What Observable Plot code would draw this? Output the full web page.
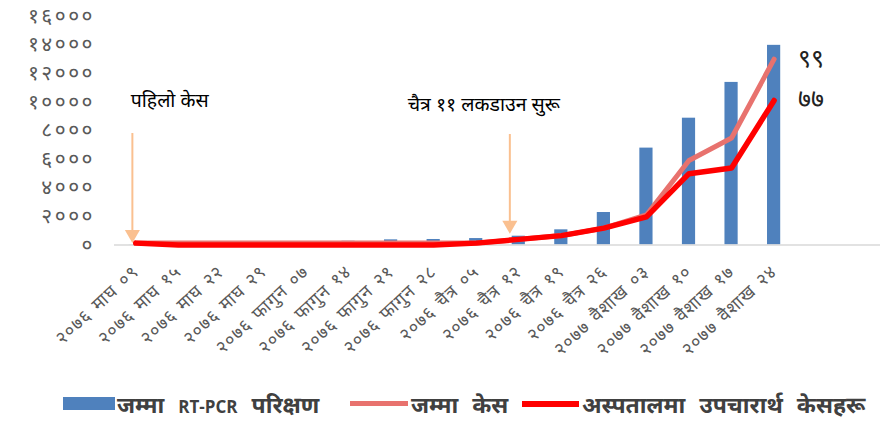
<!DOCTYPE html>
<html><head><meta charset="utf-8">
<script src="https://cdn.jsdelivr.net/npm/d3@7"></script>
<script src="https://cdn.jsdelivr.net/npm/@observablehq/plot@0.6"></script>
<style>
body{margin:0;background:#fff;width:886px;height:422px;overflow:hidden;position:relative;font-family:"Noto Sans Devanagari","Lohit Devanagari","Mangal","Noto Sans",sans-serif;}
#chart{position:absolute;left:0;top:0;}
#chart g[aria-label="y-axis tick label"] text{letter-spacing:2.5px;}
#chart g[aria-label="x-axis tick label"] text{letter-spacing:1px;word-spacing:2px;}
#chart g[aria-label="annotation"] text{word-spacing:5px;letter-spacing:0.5px;}
#chart g[aria-label="end label"] text{letter-spacing:2px;}
.sw{position:absolute;}
.lt{position:absolute;top:392px;font-size:23px;font-weight:bold;color:#404040;white-space:nowrap;line-height:30px;word-spacing:8px;}
.lat{font-family:"Open Sans",sans-serif;font-size:17px;word-spacing:0;}
</style></head><body>
<div id="chart"></div>
<div id="legend">
  <div class="sw" style="left:63px;top:397px;width:52px;height:13px;background:#4F81BD"></div>
  <div class="lt" style="left:117px">जम्मा <span class="lat">RT-PCR</span> परिक्षण</div>
  <div class="sw" style="left:350px;top:401px;width:58px;height:5px;background:#E8726E"></div>
  <div class="lt" style="left:411px">जम्मा केस</div>
  <div class="sw" style="left:522px;top:401px;width:57px;height:6px;background:#FF0000"></div>
  <div class="lt" style="left:582px">अस्पतालमा उपचारार्थ केसहरू</div>
</div>
<script>
const categories = ["२०७६ माघ ०९","२०७६ माघ १५","२०७६ माघ २२","२०७६ माघ २९","२०७६ फागुन ०७","२०७६ फागुन १४","२०७६ फागुन २१","२०७६ फागुन २८","२०७६ चैत्र ०५","२०७६ चैत्र १२","२०७६ चैत्र १९","२०७६ चैत्र २६","२०७७ वैशाख ०३","२०७७ वैशाख १०","२०७७ वैशाख १७","२०७७ वैशाख २४"];
const emptySlots = 2;
const tests = [10, 40, 90, 140, 200, 260, 360, 385, 450, 615, 1060, 2270, 6770, 8860, 11360, 13950];
const totalCases = [1, 1, 1, 1, 1, 1, 1, 1, 1, 3, 5, 9, 16, 45, 57, 99];
const hospitalCases = [1, 0, 0, 0, 0, 0, 0, 0, 1, 3, 5, 9, 15, 38, 41, 77];
const yTicks = [0, 2000, 4000, 6000, 8000, 10000, 12000, 14000, 16000];
const secondaryMax = 122; // hidden secondary axis for case counts
const endLabels = ["९९", "७७"];
const annotationTexts = ["पहिलो केस", "चैत्र ११ लकडाउन सुरू"];

const devDigits = "०१२३४५६७८९";
const toDev = v => String(v).replace(/\d/g, d => devDigits[d]);
const k = 16000 / secondaryMax;

const rows = tests.map((t, i) => ({i, tests: t, total: totalCases[i], hosp: hospitalCases[i]}));
const last = rows[rows.length - 1];
const arrowColor = "#FAC090";

const chart = Plot.plot({
  width: 886, height: 385,
  marginLeft: 114, marginRight: 6, marginTop: 15.5, marginBottom: 140.5,
  style: {fontFamily: '"Noto Sans Devanagari","Lohit Devanagari","Mangal","Noto Sans",sans-serif', background: "#fff"},
  x: {type: "linear", domain: [-0.5, categories.length + emptySlots - 0.5], axis: null},
  y: {domain: [0, 16000], axis: null},
  marks: [
    Plot.axisY(yTicks, {tickSize: 0, tickPadding: 19.5, tickFormat: toDev, fontSize: 21, color: "#595959", label: null}),
    Plot.axisX(d3.range(categories.length), {tickSize: 0, tickPadding: 24, tickRotate: -43, tickFormat: i => categories[i], fontSize: 18, color: "#595959", label: null}),
    Plot.rectY(rows, {x1: d => d.i - 0.155, x2: d => d.i + 0.155, y: "tests", fill: "#4F81BD"}),
    Plot.ruleY([0], {stroke: "#d9d9d9", strokeWidth: 1.5}),
    Plot.line(rows, {x: "i", y: d => d.total * k, stroke: "#E8726E", strokeWidth: 5}),
    Plot.line(rows, {x: "i", y: d => d.hosp * k, stroke: "#FF0000", strokeWidth: 5.5}),
    // annotation arrows
    Plot.ruleX([-0.08], {y1: 7790, y2: 800, stroke: arrowColor, strokeWidth: 2}),
    Plot.dot([-0.08], {x: d => d, y: 750, symbol: "triangle", rotate: 180, r: 5.6, fill: arrowColor, stroke: null}),
    Plot.ruleX([8.79], {y1: 7720, y2: 1400, stroke: arrowColor, strokeWidth: 2}),
    Plot.dot([8.79], {x: d => d, y: 1390, symbol: "triangle", rotate: 180, r: 5.6, fill: arrowColor, stroke: null}),
    Plot.text([annotationTexts[0]], {x: -0.12, y: 10096, text: d => d, textAnchor: "start", fontSize: 19.5, fill: "#000", ariaLabel: "annotation"}),
    Plot.text([annotationTexts[1]], {x: 6.39, y: 9817, text: d => d, textAnchor: "start", fontSize: 19.5, fill: "#000", ariaLabel: "annotation"}),
    // end labels
    Plot.text([last.total * k, last.hosp * k], {x: last.i + 0.56, y: d => d, text: (d, i) => endLabels[i], textAnchor: "start", fontSize: 25, fill: "#222", ariaLabel: "end label"})
  ]
});
document.getElementById("chart").appendChild(chart);
</script>
</body></html>
